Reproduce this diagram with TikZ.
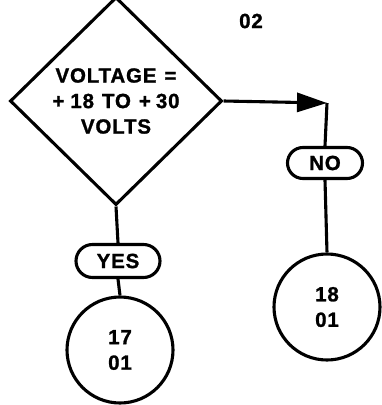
\documentclass[tikz,border=0pt]{standalone}
\usepackage{fontspec}
\setmainfont{Liberation Sans}
\newfontfamily\lblfont[LetterSpace=4,FakeBold=1.2]{Liberation Sans Bold}
\usetikzlibrary{shapes.geometric,shapes.misc,arrows.meta}
\tikzset{
  lbl/.style={font=\lblfont\fontsize{20.5}{25.5}\selectfont, align=center},
  decision/.style={diamond, draw, line width=3.1pt, inner sep=0pt, minimum width=212pt, minimum height=208pt, lbl},
  pill/.style={rounded rectangle, draw, line width=3.1pt, inner sep=0pt, lbl},
  conn/.style={circle, draw, line width=3.1pt, inner sep=0pt, minimum size=106pt, lbl},
  wire/.style={line width=3.1pt},
}
\begin{document}
\begin{tikzpicture}[x=1pt,y=-1pt]
\useasboundingbox (0,0) rectangle (382,405);
\node[decision] (d) at (116,101) {VOLTAGE\hspace{8pt}=\\+\hspace{6pt}18\hspace{8pt}TO\hspace{8pt}+\hspace{5pt}30\\VOLTS};
\node[lbl] (pg) at (251,21) {02};
\coordinate (c) at (327,103);
\node[pill, minimum width=75pt, minimum height=31pt] (no) at (325,163) {NO};
\node[pill, minimum width=84pt, minimum height=33pt] (yes) at (118,261) {YES};
\node[conn] (c18) at (327,307) {18\\01};
\node[conn] (c17) at (120,350) {17\\01};
\draw[wire, -{Triangle[length=30pt,width=19pt]}] (d.east) -- (c);
\draw[wire] (c) -- (no.north);
\draw[wire] (no.south) -- (c18.north);
\draw[wire] (d.south) -- (yes.north);
\draw[wire] (yes.south) -- (c17.north);
\end{tikzpicture}
\end{document}
